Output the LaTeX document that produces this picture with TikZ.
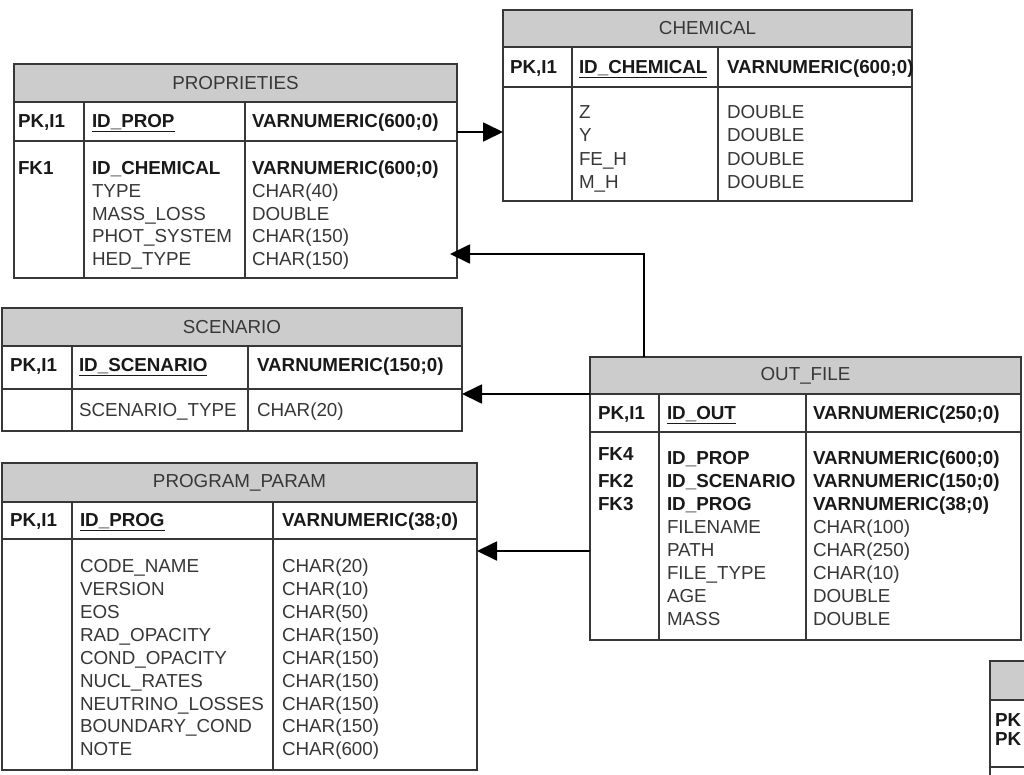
\documentclass[tikz,border=0pt]{standalone}
\usepackage{fontspec}
\setmainfont{Liberation Sans}
\usetikzlibrary{arrows.meta}
\definecolor{hdrfill}{RGB}{204,204,204}
\definecolor{linec}{RGB}{55,55,55}
\definecolor{txtc}{RGB}{55,55,55}
\definecolor{boldc}{RGB}{25,25,25}
\newcounter{tn}
\newcommand\tx[4][]{\stepcounter{tn}\edef\tnm{t\arabic{tn}}\node[txt,#1] (\tnm) at (#2,#3+6.6) {#4};}
% name, x, y, w, h, header height, pk-row bottom offset, col1 x, col2 x
\newcommand\ertable[9]{%
  \fill[hdrfill] (#2,#3) rectangle (#2+#4,#3+#6);
  \node[tblbox, minimum width=#4pt, minimum height=#5pt, anchor=north west] (#1) at (#2,#3) {};
  \draw[tline] (#2,#3+#6) -- (#2+#4,#3+#6) (#2,#3+#7) -- (#2+#4,#3+#7)
    (#8,#3+#6) -- (#8,#3+#5) (#9,#3+#6) -- (#9,#3+#5);
}
\tikzset{
  txt/.style={anchor=base west, inner sep=0pt, outer sep=0pt, font=\fontsize{18.8pt}{22pt}\selectfont, text=txtc},
  bf/.style={font=\fontsize{18.8pt}{22pt}\selectfont\bfseries, text=boldc},
  hd/.style={anchor=base},
  tblbox/.style={draw=linec, line width=1.4pt, inner sep=0pt, outer sep=0pt},
  tline/.style={draw=linec, line width=1.4pt},
  arr/.style={draw=black, line width=1.8pt, -{Triangle[length=20pt,width=19pt]}},
}
\begin{document}
\begin{tikzpicture}[x=1pt,y=-1pt]
\useasboundingbox (0,0) rectangle (1024,774);
\clip (0,0) rectangle (1024,774);
\fill[white] (0,0) rectangle (1024,774);

% PROPRIETIES
\ertable{prop}{14}{64}{443}{214}{38}{77}{84}{245}
\tx[hd]{235.5}{83}{PROPRIETIES}
\tx[bf]{18}{121}{PK,I1}
\tx[bf]{92}{121}{\underline{ID\_PROP}}
\tx[bf]{252}{121}{VARNUMERIC(600;0)}
\tx[bf]{18}{168}{FK1}
\tx[bf]{92}{168}{ID\_CHEMICAL}
\tx[bf]{252}{168}{VARNUMERIC(600;0)}
\foreach \a/\b [count=\i from 0] in {TYPE/CHAR(40), MASS\_LOSS/DOUBLE, PHOT\_SYSTEM/CHAR(150), HED\_TYPE/CHAR(150)}{
  \tx{92}{191+\i*22.5}{\a}
  \tx{252}{191+\i*22.5}{\b}
}

% CHEMICAL
\ertable{chem}{503}{10}{409}{191}{37}{77}{572}{718}
\tx[hd]{707.5}{28}{CHEMICAL}
\tx[bf]{510}{67}{PK,I1}
\tx[bf]{579}{67}{\underline{ID\_CHEMICAL}}
\tx[bf]{727}{67}{VARNUMERIC(600;0)}
\foreach \a [count=\i from 0] in {Z, Y, FE\_H, M\_H}{
  \tx{579}{112+\i*23.2}{\a}
  \tx{727}{112+\i*23.2}{DOUBLE}
}

% SCENARIO
\ertable{scen}{2}{308}{460}{123}{38}{81}{72}{248}
\tx[hd]{232}{327}{SCENARIO}
\tx[bf]{10}{365}{PK,I1}
\tx[bf]{79}{365}{\underline{ID\_SCENARIO}}
\tx[bf]{257}{365}{VARNUMERIC(150;0)}
\tx{79}{410}{SCENARIO\_TYPE}
\tx{257}{410}{CHAR(20)}

% PROGRAM_PARAM
\ertable{prog}{2}{463}{475}{307}{39}{76}{72}{273}
\tx[hd]{239.5}{481}{PROGRAM\_PARAM}
\tx[bf]{10}{520}{PK,I1}
\tx[bf]{80}{520}{\underline{ID\_PROG}}
\tx[bf]{282}{520}{VARNUMERIC(38;0)}
\foreach \a/\b [count=\i from 0] in {CODE\_NAME/CHAR(20), VERSION/CHAR(10), EOS/CHAR(50), RAD\_OPACITY/CHAR(150), COND\_OPACITY/CHAR(150), NUCL\_RATES/CHAR(150), NEUTRINO\_LOSSES/CHAR(150), BOUNDARY\_COND/CHAR(150), NOTE/CHAR(600)}{
  \tx{80}{566+\i*22.9}{\a}
  \tx{282}{566+\i*22.9}{\b}
}

% OUT_FILE
\ertable{out}{590}{357}{431}{283}{37}{75}{659}{806}
\tx[hd]{805.5}{374}{OUT\_FILE}
\tx[bf]{598}{413}{PK,I1}
\tx[bf]{667}{413}{\underline{ID\_OUT}}
\tx[bf]{813}{413}{VARNUMERIC(250;0)}
\tx[bf]{598}{454}{FK4}
\tx[bf]{598}{481}{FK2}
\tx[bf]{598}{504}{FK3}
\foreach \a/\b [count=\i from 0] in {ID\_PROP/VARNUMERIC(600;0), ID\_SCENARIO/VARNUMERIC(150;0), ID\_PROG/VARNUMERIC(38;0)}{
  \tx[bf]{667}{458+\i*23}{\a}
  \tx[bf]{813}{458+\i*23}{\b}
}
\foreach \a/\b [count=\i from 3] in {FILENAME/CHAR(100), PATH/CHAR(250), FILE\_TYPE/CHAR(10), AGE/DOUBLE, MASS/DOUBLE}{
  \tx{667}{458+\i*23}{\a}
  \tx{813}{458+\i*23}{\b}
}

% partial table bottom right
\fill[hdrfill] (990,661) rectangle (1080,700);
\node[tblbox, minimum width=90pt, minimum height=150pt, anchor=north west] (part) at (990,661) {};
\draw[tline] (990,700) -- (1080,700) (990,767) -- (1080,767);
\tx[bf]{995}{720}{PK}
\tx[bf]{995}{739}{PK}

% connectors
\draw[arr] ([yshift=-68pt]prop.north east) -- ([yshift=-122pt]chem.north west);
\draw[arr, shorten >=-7pt] ([xshift=54pt]out.north west) |- ([yshift=24pt]prop.south east);
\draw[arr] ([yshift=-37pt]out.north west) -- ([yshift=-86pt]scen.north east);
\draw[arr] ([yshift=-194pt]out.north west) -- ([yshift=-88pt]prog.north east);
\end{tikzpicture}
\end{document}
